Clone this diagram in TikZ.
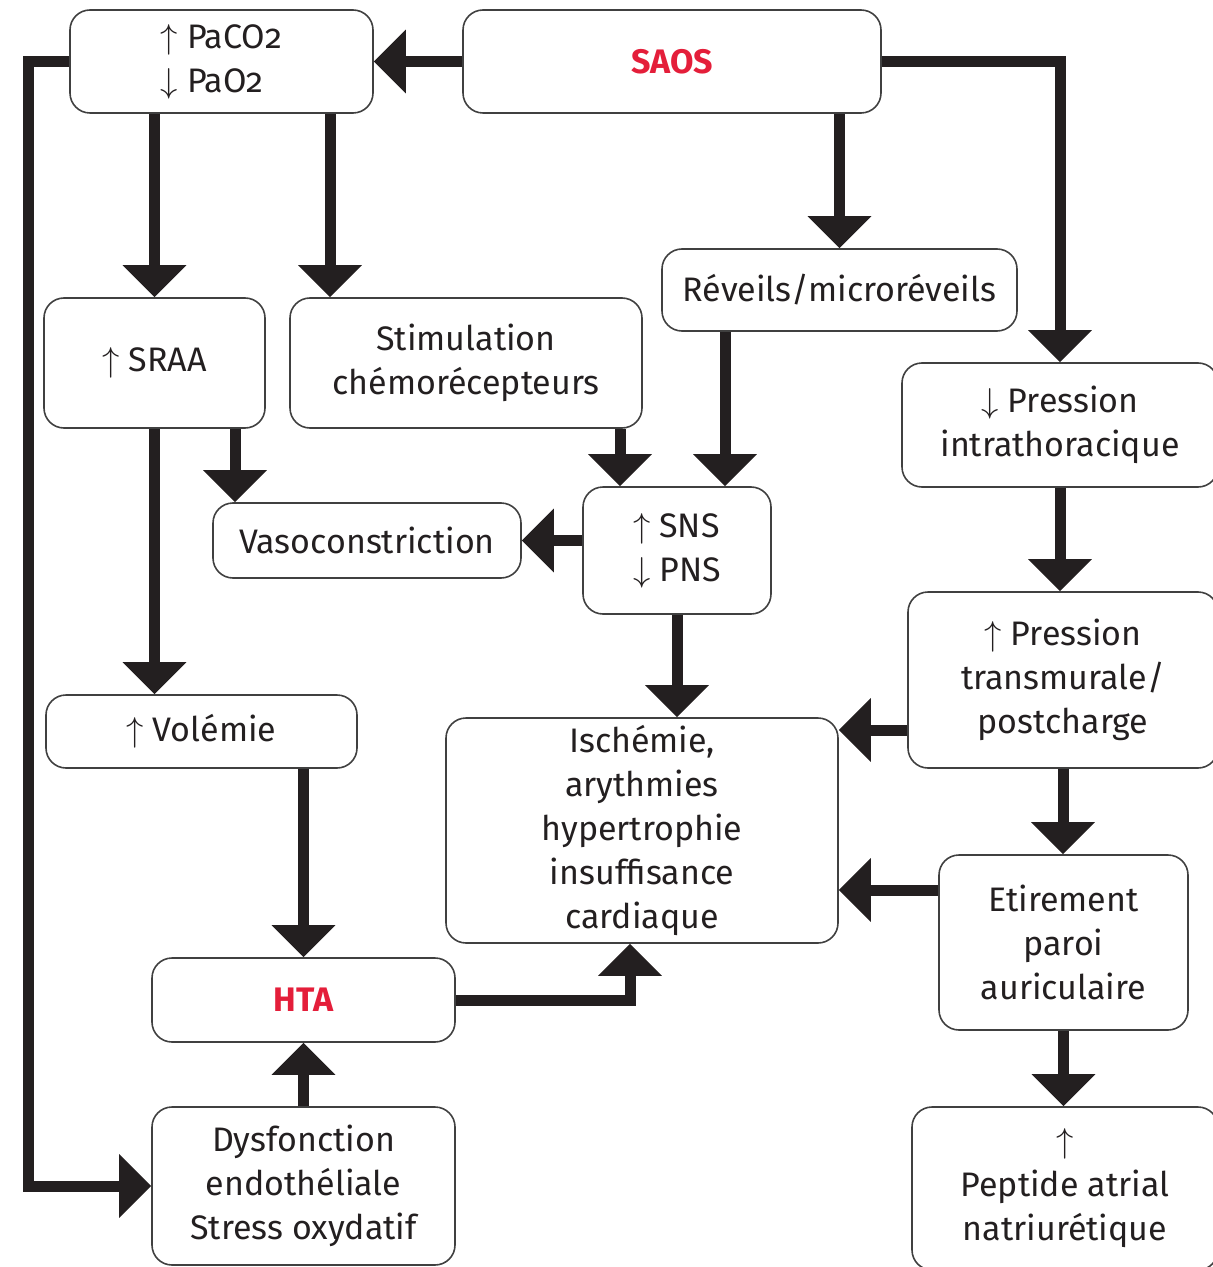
\documentclass[tikz,border=0pt]{standalone}
\usepackage{fontspec}
\setmainfont{Fira Sans}
\usetikzlibrary{arrows.meta}
\definecolor{saosred}{RGB}{228,30,58}
\definecolor{ink}{RGB}{35,31,32}
\newcommand{\hausse}{$\uparrow$}
\newcommand{\baisse}{$\downarrow$}
\newcommand{\deux}{{\addfontfeature{Numbers=OldStyle}2}}

\begin{document}
\begin{tikzpicture}[x=0.5pt,y=-0.5pt,font=\fontsize{17}{22}\selectfont,
  box/.style={draw=black!75,line width=0.8pt,rounded corners=10pt,align=center,inner sep=0pt,text=ink},
  hot/.style={box,text=saosred,font=\fontsize{17}{22}\selectfont\bfseries},
  arr/.style={draw=ink,line width=5.5pt,-{Triangle[width=31pt,length=16pt]}}]
\useasboundingbox (0,0) rectangle (1212,1267);
% top row
\node[box,align=left,minimum width=151.5pt,minimum height=51.5pt] (gaz) at (221.5,61.5) {\hausse{} PaCO\deux\\\baisse{} PaO\deux};
\node[hot,minimum width=209pt,minimum height=51.5pt] (saos) at (672,61.5) {SAOS};
% second row
\node[box,minimum width=177.5pt,minimum height=41pt] (reveil) at (839.5,290) {Réveils/microréveils};
\node[box,minimum width=110.5pt,minimum height=65pt] (sraa) at (154.5,363) {\hausse{} SRAA};
\node[box,minimum width=176pt,minimum height=65pt] (chemo) at (466,363) {Stimulation\\chémorécepteurs};
\node[box,minimum width=158pt,minimum height=62pt] (pit) at (1060,425) {\baisse{} Pression\\intrathoracique};
% middle
\node[box,minimum width=154pt,minimum height=37.5pt] (vaso) at (367,540.5) {Vasoconstriction};
\node[box,align=left,minimum width=94pt,minimum height=63.5pt] (sns) at (677,550.5) {\hausse{} SNS\\\baisse{} PNS};
\node[box,minimum width=155pt,minimum height=88pt] (ptm) at (1063,680) {\hausse{} Pression\\transmurale/\\postcharge};
\node[box,minimum width=155.5pt,minimum height=36.5pt] (vol) at (201.5,731.5) {\hausse{} Volémie};
\node[box,minimum width=196pt,minimum height=112.5pt] (isch) at (642,830.5) {Ischémie,\\arythmies\\hypertrophie\\insuffisance\\cardiaque};
\node[box,minimum width=124.5pt,minimum height=87.5pt] (etir) at (1063.5,942.5) {Etirement\\paroi\\auriculaire};
% bottom
\node[hot,minimum width=151.5pt,minimum height=42pt] (hta) at (303.5,1000) {HTA};
\node[box,minimum width=151.5pt,minimum height=79pt] (dys) at (303.5,1186) {Dysfonction\\endothéliale\\Stress oxydatif};
\node[box,minimum width=153pt,minimum height=81.5pt] (anp) at (1065,1188.5) {\hausse\\Peptide atrial\\natriurétique};
% columns and rows of the connectors
\coordinate (xloop) at (28,0);
\coordinate (xchemo) at (330,0);
\coordinate (xvaso) at (235,0);
\coordinate (xstim) at (620,0);
\coordinate (xrev) at (725,0);
\coordinate (xhta) at (630,0);
\coordinate (yptm) at (0,730);
\coordinate (yetir) at (0,890);
% connectors
\draw[arr] (saos.west) -- (gaz.east);
\draw[arr] (gaz.west) -- (xloop |- gaz.west) -- (xloop |- dys.west) -- (dys.west);
\draw[arr] (gaz.south -| sraa.north) -- (sraa.north);
\draw[arr] (gaz.south -| xchemo) -- (chemo.north -| xchemo);
\draw[arr] (saos.east) -| (pit.north);
\draw[arr] (saos.south -| reveil.north) -- (reveil.north);
\draw[arr] (reveil.south -| xrev) -- (sns.north -| xrev);
\draw[arr] (chemo.south -| xstim) -- (sns.north -| xstim);
\draw[arr] (sraa.south -| xvaso) -- (vaso.north -| xvaso);
\draw[arr] (sraa.south) -- (vol.north -| sraa.south);
\draw[arr] (sns.west |- vaso.east) -- (vaso.east);
\draw[arr] (sns.south) -- (isch.north -| sns.south);
\draw[arr] (pit.south) -- (ptm.north -| pit.south);
\draw[arr] (ptm.west |- yptm) -- (isch.east |- yptm);
\draw[arr] (ptm.south) -- (etir.north -| ptm.south);
\draw[arr] (etir.west |- yetir) -- (isch.east |- yetir);
\draw[arr] (etir.south) -- (anp.north -| etir.south);
\draw[arr] (vol.south -| hta.north) -- (hta.north);
\draw[arr] (dys.north) -- (hta.south);
\draw[arr] (hta.east) -| (isch.south -| xhta);
\end{tikzpicture}
\end{document}
